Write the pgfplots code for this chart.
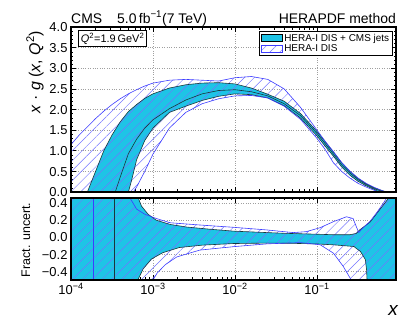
\documentclass[border=0pt]{standalone}
\usepackage{fontspec}
\setmainfont{Liberation Sans}
\usepackage{pgfplots}
\pgfplotsset{compat=1.18}
\usepgfplotslibrary{fillbetween}
\usetikzlibrary{patterns.meta}

\definecolor{bandcyan}{RGB}{30,196,230}
\definecolor{bandedge}{RGB}{25,55,60}
\definecolor{herablue}{RGB}{60,60,255}
\definecolor{hatchblue}{RGB}{115,115,255}

\tikzset{
  hatch/.style={pattern={Lines[angle=45,distance=7bp,line width=0.45bp]}, pattern color=hatchblue},
  edge/.style={bandedge, line width=0.6bp},
  bluedge/.style={herablue, line width=0.6bp},
}

\begin{document}
\begin{tikzpicture}[x=1bp,y=1bp]

% ---------------- upper panel: x g(x,Q^2)
\begin{axis}[
  at={(71bp,130bp)}, anchor=south west,
  scale only axis, width=325bp, height=165bp,
  xmode=log, xmin=1e-4, xmax=0.92,
  xtick={1e-4,1e-3,1e-2,1e-1}, xticklabels={},
  ymin=0, ymax=4,
  ytick={0,0.5,1,1.5,2,2.5,3,3.5,4},
  yticklabels={0.0,0.5,1.0,1.5,2.0,2.5,3.0,3.5,4.0},
  minor y tick num=4,
  tick align=inside, major tick length=5bp, minor tick length=2.5bp,
  every tick/.style={black, line width=0.5bp},
  axis line style={line width=1.2bp},
  grid=major, major grid style={dotted, gray!75, line width=0.5bp},
  tick label style={font=\fontsize{13}{14}\selectfont},
  yticklabel style={inner ysep=0pt, text height=9.3bp, text depth=0pt},
  legend style={at={(0.991,0.976)}, anchor=north east, draw=black, line width=0.8bp,
    font=\fontsize{10}{11}\selectfont, inner xsep=1.5bp, inner ysep=0.5bp, row sep=-2bp},
  legend cell align=left,
]
\addlegendimage{legend image code/.code={\draw[fill=bandcyan, draw=black, line width=0.6bp] (0bp,-3.5bp) rectangle (21bp,3.5bp);}}
\addlegendimage{legend image code/.code={\draw[hatch, draw=herablue, line width=0.6bp] (0bp,-3.5bp) rectangle (21bp,3.5bp);}}
\legend{HERA-I DIS + CMS jets, HERA-I DIS}

% HERA-I DIS + CMS jets
\addplot[edge, name path=cu, forget plot] coordinates {
 (1.585e-4,0) (1.995e-4,0.50) (2.512e-4,1.00) (3.162e-4,1.38) (3.981e-4,1.70)
 (5.012e-4,1.95) (6.310e-4,2.12) (7.943e-4,2.27) (1e-3,2.38) (1.585e-3,2.52)
 (2.512e-3,2.60) (3.981e-3,2.64) (6.310e-3,2.65) (1e-2,2.62) (1.585e-2,2.52)
 (2.512e-2,2.37) (3.981e-2,2.20) (6.310e-2,1.90) (0.1,1.47) (0.1259,1.22)
 (0.1585,0.97) (0.1995,0.71) (0.2512,0.50) (0.3162,0.33) (0.3981,0.20)
 (0.5012,0.10) (0.6310,0.03) (0.7079,0)
};
\addplot[edge, name path=cl, forget plot] coordinates {
 (5.012e-4,0) (5.495e-4,0.29) (6.310e-4,0.78) (7.943e-4,1.25) (1e-3,1.55)
 (1.585e-3,1.93) (2.512e-3,2.08) (3.981e-3,2.22) (6.310e-3,2.32) (1e-2,2.38)
 (1.585e-2,2.36) (2.512e-2,2.28) (3.981e-2,2.09) (6.310e-2,1.79) (0.1,1.36)
 (0.1259,1.11) (0.1585,0.87) (0.1995,0.61) (0.2512,0.41) (0.3162,0.26)
 (0.3981,0.15) (0.5012,0.06) (0.5623,0)
};
% HERA-I DIS
\addplot[bluedge, name path=bu, forget plot] coordinates {
 (1e-4,1.15) (1.259e-4,1.38) (1.585e-4,1.58) (1.995e-4,1.78) (2.512e-4,1.96)
 (3.162e-4,2.12) (3.981e-4,2.26) (5.012e-4,2.38) (6.310e-4,2.48) (7.943e-4,2.57)
 (1e-3,2.64) (1.585e-3,2.71) (2.512e-3,2.73) (3.981e-3,2.71) (6.310e-3,2.69)
 (1e-2,2.77) (1.585e-2,2.80) (2.512e-2,2.73) (3.981e-2,2.50) (6.310e-2,2.05)
 (0.1,1.50) (0.1259,1.23) (0.1585,0.98) (0.1995,0.72) (0.2512,0.51)
 (0.3162,0.34) (0.3981,0.21) (0.5012,0.11) (0.6310,0.03) (0.7079,0)
};
\addplot[bluedge, name path=bl, forget plot] coordinates {
 (1e-4,0) (5.012e-4,0) (5.754e-4,0) (6.310e-4,0.12) (7.943e-4,0.50) (1e-3,0.92)
 (1.585e-3,1.55) (2.512e-3,1.93) (3.981e-3,2.14) (6.310e-3,2.26) (1e-2,2.33)
 (1.585e-2,2.34) (2.512e-2,2.28) (3.981e-2,2.08) (6.310e-2,1.76) (0.1,1.30)
 (0.1259,1.03) (0.1585,0.71) (0.1995,0.50) (0.2512,0.34) (0.3162,0.21)
 (0.3981,0.12) (0.5012,0.04) (0.5623,0)
};
\addplot[fill=bandcyan, draw=none, forget plot] fill between[of=cu and cl];
\addplot[hatch, draw=none, forget plot] fill between[of=bu and bl];
% central value
\addplot[edge, forget plot] coordinates {
 (3.467e-4,0) (3.981e-4,0.36) (5.012e-4,0.93) (6.310e-4,1.28) (7.943e-4,1.55)
 (1e-3,1.75) (1.585e-3,2.02) (2.512e-3,2.23) (3.981e-3,2.38) (6.310e-3,2.46)
 (1e-2,2.48) (1.585e-2,2.43) (2.512e-2,2.33) (3.981e-2,2.14) (6.310e-2,1.85)
 (0.1,1.42) (0.1259,1.17) (0.1585,0.92) (0.1995,0.66) (0.2512,0.46)
 (0.3162,0.30) (0.3981,0.18) (0.5012,0.08) (0.6310,0.01) (0.6607,0)
};

\node[draw=black, line width=0.8bp, fill=white, anchor=north west, inner sep=2.5bp,
  font=\fontsize{11}{12}\selectfont] at (rel axis cs:0.0215,0.982)
  {\textit{Q}\textsuperscript{2}=1.9\,GeV\textsuperscript{2}};
\end{axis}
\draw[line width=1.2bp] (71,130) rectangle (396,295);

% ---------------- lower panel: fractional uncertainty
\begin{axis}[
  at={(71bp,42bp)}, anchor=south west,
  scale only axis, width=325bp, height=82bp,
  xmode=log, xmin=1e-4, xmax=0.92,
  xtick={1e-4,1e-3,1e-2,1e-1},
  xticklabels={10\textsuperscript{−4},10\textsuperscript{−3},10\textsuperscript{−2},10\textsuperscript{−1}},
  ymin=-0.5, ymax=0.46,
  ytick={-0.4,-0.2,0,0.2,0.4},
  yticklabels={−0.4,−0.2,0.0,0.2,0.4},
  minor y tick num=1,
  tick align=inside, major tick length=5bp, minor tick length=2.5bp,
  every tick/.style={black, line width=0.5bp},
  axis line style={line width=1.2bp},
  grid=major, major grid style={dotted, gray!75, line width=0.5bp},
  tick label style={font=\fontsize{13}{14}\selectfont},
  yticklabel style={inner ysep=0pt, text height=9.3bp, text depth=0pt},
]
\addplot[edge, name path=fcu] coordinates {
 (1e-4,0.6) (6.45e-4,0.6) (6.607e-4,0.46) (7.244e-4,0.365) (8.710e-4,0.27)
 (1.096e-3,0.20) (1.622e-3,0.15) (2.570e-3,0.12) (5.012e-3,0.094) (9.550e-3,0.072)
 (2.455e-2,0.055) (3.890e-2,0.047) (0.1,0.036) (0.1585,0.030) (0.2512,0.030)
 (0.3020,0.045) (0.3311,0.086) (0.4467,0.18) (0.5370,0.28) (0.6457,0.38)
 (0.7413,0.455) (0.7943,0.52) (0.85,0.6) (1,0.6)
};
\addplot[edge, name path=fcl] coordinates {
 (1e-4,-0.6) (6.45e-4,-0.6) (6.607e-4,-0.49) (7.586e-4,-0.37) (9.550e-4,-0.255)
 (1.318e-3,-0.18) (2.089e-3,-0.12) (3.981e-3,-0.092) (9.550e-3,-0.073)
 (2.455e-2,-0.068) (4.677e-2,-0.07) (0.1,-0.078) (0.1585,-0.088) (0.2818,-0.108)
 (0.3388,-0.166) (0.3890,-0.26) (0.4027,-0.38) (0.4074,-0.49) (0.4121,-0.6) (1,-0.6)
};
\addplot[bluedge, name path=fbu] coordinates {
 (1e-4,0.6) (5.1e-4,0.6) (5.248e-4,0.46) (6.310e-4,0.33) (7.943e-4,0.27)
 (1.096e-3,0.22) (1.622e-3,0.17) (3.715e-3,0.144) (9.550e-3,0.117) (2.455e-2,0.086)
 (5.129e-2,0.055) (7.413e-2,0.066) (0.1096,0.113) (0.1585,0.183) (0.2291,0.24)
 (0.2754,0.22) (0.3020,0.124) (0.3236,0.055) (0.3548,0.10) (0.4467,0.19)
 (0.5370,0.29) (0.6457,0.40) (0.7079,0.46) (0.78,0.6) (1,0.6)
};
\addplot[bluedge, name path=fbl] coordinates {
 (1e-4,-0.6) (9.8e-4,-0.6) (1e-3,-0.5) (1.122e-3,-0.42) (1.413e-3,-0.32)
 (1.950e-3,-0.23) (3.715e-3,-0.15) (9.550e-3,-0.11) (2.455e-2,-0.077)
 (6.310e-2,-0.062) (0.1096,-0.088) (0.1585,-0.185) (0.2089,-0.34)
 (0.2600,-0.495) (0.2630,-0.6) (1,-0.6)
};
\addplot[fill=bandcyan, draw=none] fill between[of=fcu and fcl];
\addplot[hatch, draw=none] fill between[of=fbu and fbl];
% x where the central values cross zero
\addplot[herablue, line width=0.8bp] coordinates {(1.862e-4,-1) (1.862e-4,1)};
\addplot[bandedge, line width=0.7bp] coordinates {(3.39e-4,-1) (3.39e-4,1)};
\end{axis}
\draw[line width=1.2bp] (71,42) rectangle (396,124);

% ---------------- texts around the panels
\node[anchor=base west, font=\fontsize{14}{16}\selectfont, inner sep=0] at (71,299) {CMS};
\node[anchor=base west, font=\fontsize{14}{16}\selectfont, inner sep=0] at (117,299)
  {5.0\,fb\textsuperscript{−1}(7 TeV)};
\node[anchor=base east, font=\fontsize{14}{16}\selectfont, inner sep=0] at (396,299) {HERAPDF method};
\node[rotate=90, font=\fontsize{16}{18}\selectfont, inner sep=0] at (35,250)
  {\textit{x} · \textit{g} (\textit{x}, \textit{Q}\textsuperscript{2})};
\node[rotate=90, font=\fontsize{12.5}{14}\selectfont, inner sep=0] at (26,82) {Fract. uncert.};
\node[font=\fontsize{19}{21}\selectfont\itshape, inner sep=0] at (393,12) {x};

\pgfresetboundingbox
\useasboundingbox (0,0) rectangle (407,322);
\end{tikzpicture}
\end{document}
